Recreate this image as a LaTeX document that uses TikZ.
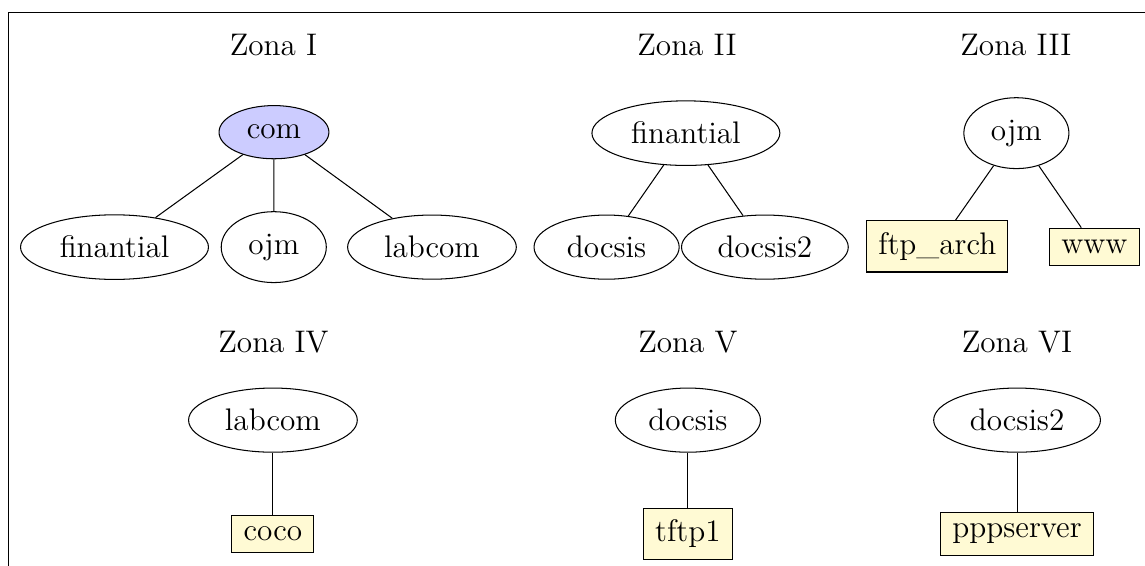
\documentclass[tikz,border=0pt,12pt]{standalone}
\usepackage{tikz}
\usepackage{color}
\usetikzlibrary{shapes.geometric}
\definecolor{srvfill}{RGB}{255,250,212}

\begin{document}
\begin{tikzpicture}[host/.style={ellipse,draw=black,inner sep=4.5pt},
		srv/.style={rectangle,draw=black,fill=srvfill,inner sep=4.5pt}]
			\useasboundingbox (0,0) rectangle (15.48,7.64);
			\draw (0.115,-1) rectangle (16.5,7.469);
			
			% zonas
			
			\foreach \z/\x/\y in {I/3.697/7.025,II/9.287/7.025,III/13.734/7.025,
				IV/3.697/3.015,V/9.300/3.015,VI/13.748/3.015} {
				\node (Z\z) at (\x,\y) {Zona \z};
			}
			
			% zona I
			
			\node[host,fill=blue!20] (com) at (3.704,5.853) {com};
			\node[host] (Afin) at (1.548,4.299) {finantial};
			\node[host] (Aojm) at (3.701,4.299) {ojm};
			\node[host] (Alab) at (5.840,4.299) {labcom};
			\draw (com) -- (Afin);
			\draw (com) -- (Aojm);
			\draw (com) -- (Alab);
			
			% zona II
			
			\node[host] (Bfin) at (9.273,5.840) {finantial};
			\node[host] (Bdoc) at (8.201,4.299) {docsis};
			\node[host] (Bdoc2) at (10.341,4.299) {docsis2};
			\draw (Bfin) -- (Bdoc);
			\draw (Bfin) -- (Bdoc2);
			
			% zona III
			
			\node[host] (Cojm) at (13.741,5.840) {ojm};
			\node[srv] (Cftp) at (12.671,4.310) {ftp\_arch};
			\node[srv] (Cwww) at (14.796,4.304) {www};
			\draw (Cojm) -- (Cftp);
			\draw (Cojm) -- (Cwww);
			
			% zonas IV, V, VI
			
			\node[host] (Dlab) at (3.690,1.960) {labcom};
			\node[srv] (Dcoco) at (3.690,0.422) {coco};
			\draw (Dlab) -- (Dcoco);
			
			\node[host] (Edoc) at (9.300,1.960) {docsis};
			\node[srv] (Etftp) at (9.300,0.422) {tftp1};
			\draw (Edoc) -- (Etftp);
			
			\node[host] (Fdoc2) at (13.750,1.960) {docsis2};
			\node[srv] (Fppp) at (13.750,0.422) {pppserver};
			\draw (Fdoc2) -- (Fppp);
		\end{tikzpicture}
\end{document}
